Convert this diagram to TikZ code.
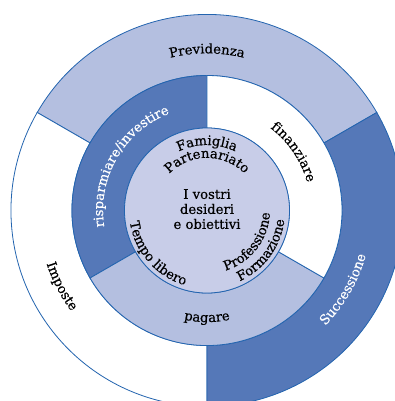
\documentclass[tikz,border=0pt]{standalone}
\usepackage{fontspec}
\setmainfont{DejaVu Serif}[FakeBold=0.5]
\usetikzlibrary{decorations.text}
\definecolor{ringdark}{RGB}{85,120,184}
\definecolor{ringlight}{RGB}{180,191,224}
\definecolor{corefill}{RGB}{200,205,232}
\definecolor{rimline}{RGB}{35,100,175}
\tikzset{
  segment/.style={draw=rimline,line width=0.8pt},
  ringtext/.style={decorate,decoration={text along path,text align=center,text={#1}}},
  whitetext/.style={decoration={text color=white}}
}
\begin{document}
\fontsize{13.2}{15}\selectfont
\begin{tikzpicture}
\useasboundingbox (-7.275,-6.695) rectangle (6.607,7.398);
\clip (-7.275,-6.695) rectangle (6.607,7.398);
% outer ring
\filldraw[segment,fill=ringlight] (30:4.745) arc[start angle=30,end angle=150,radius=4.745] -- (150:6.89) arc[start angle=150,end angle=30,radius=6.89] -- cycle;
\filldraw[segment,fill=white] (150:4.745) arc[start angle=150,end angle=270,radius=4.745] -- (270:6.89) arc[start angle=270,end angle=150,radius=6.89] -- cycle;
\filldraw[segment,fill=ringdark] (-90:4.745) arc[start angle=-90,end angle=30,radius=4.745] -- (30:6.89) arc[start angle=30,end angle=-90,radius=6.89] -- cycle;
% middle ring
\filldraw[segment,fill=ringdark] (90:2.9) arc[start angle=90,end angle=210,radius=2.9] -- (210:4.745) arc[start angle=210,end angle=90,radius=4.745] -- cycle;
\filldraw[segment,fill=ringlight] (210:2.9) arc[start angle=210,end angle=330,radius=2.9] -- (330:4.745) arc[start angle=330,end angle=210,radius=4.745] -- cycle;
\filldraw[segment,fill=white] (-30:2.9) arc[start angle=-30,end angle=90,radius=2.9] -- (90:4.745) arc[start angle=90,end angle=-30,radius=4.745] -- cycle;
% core
\filldraw[segment,fill=corefill] (0,0) circle[radius=2.9];
\node[align=center] (wishes) at (0,0.05) {I vostri\\desideri\\e obiettivi};
% labels on the outer ring
\path[ringtext={Previdenza}] (160:5.52) arc[start angle=160,end angle=20,radius=5.52];
\path[ringtext={Successione},whitetext] (-100:5.8) arc[start angle=-100,end angle=40,radius=5.8];
\path[ringtext={Imposte}] (137.5:5.94) arc[start angle=137.5,end angle=277.5,radius=5.94];
% labels on the middle ring
\path[ringtext={finanziare}] (104:3.655) arc[start angle=104,end angle=-36,radius=3.655];
\path[ringtext={risparmiare/investire},whitetext] (230:3.655) arc[start angle=230,end angle=70,radius=3.655];
\path[ringtext={pagare}] (200:3.92) arc[start angle=200,end angle=340,radius=3.92];
% labels in the core
\path[ringtext={Famiglia}] (160:2.3) arc[start angle=160,end angle=20,radius=2.3];
\path[ringtext={Partenariato}] (160:1.85) arc[start angle=160,end angle=20,radius=1.85];
\path[ringtext={Tempo libero}] (151:2.74) arc[start angle=151,end angle=291,radius=2.74];
\path[ringtext={Professione}] (252.5:2.21) arc[start angle=252.5,end angle=392.5,radius=2.21];
\path[ringtext={Formazione}] (254:2.74) arc[start angle=254,end angle=394,radius=2.74];
\end{tikzpicture}
\end{document}
